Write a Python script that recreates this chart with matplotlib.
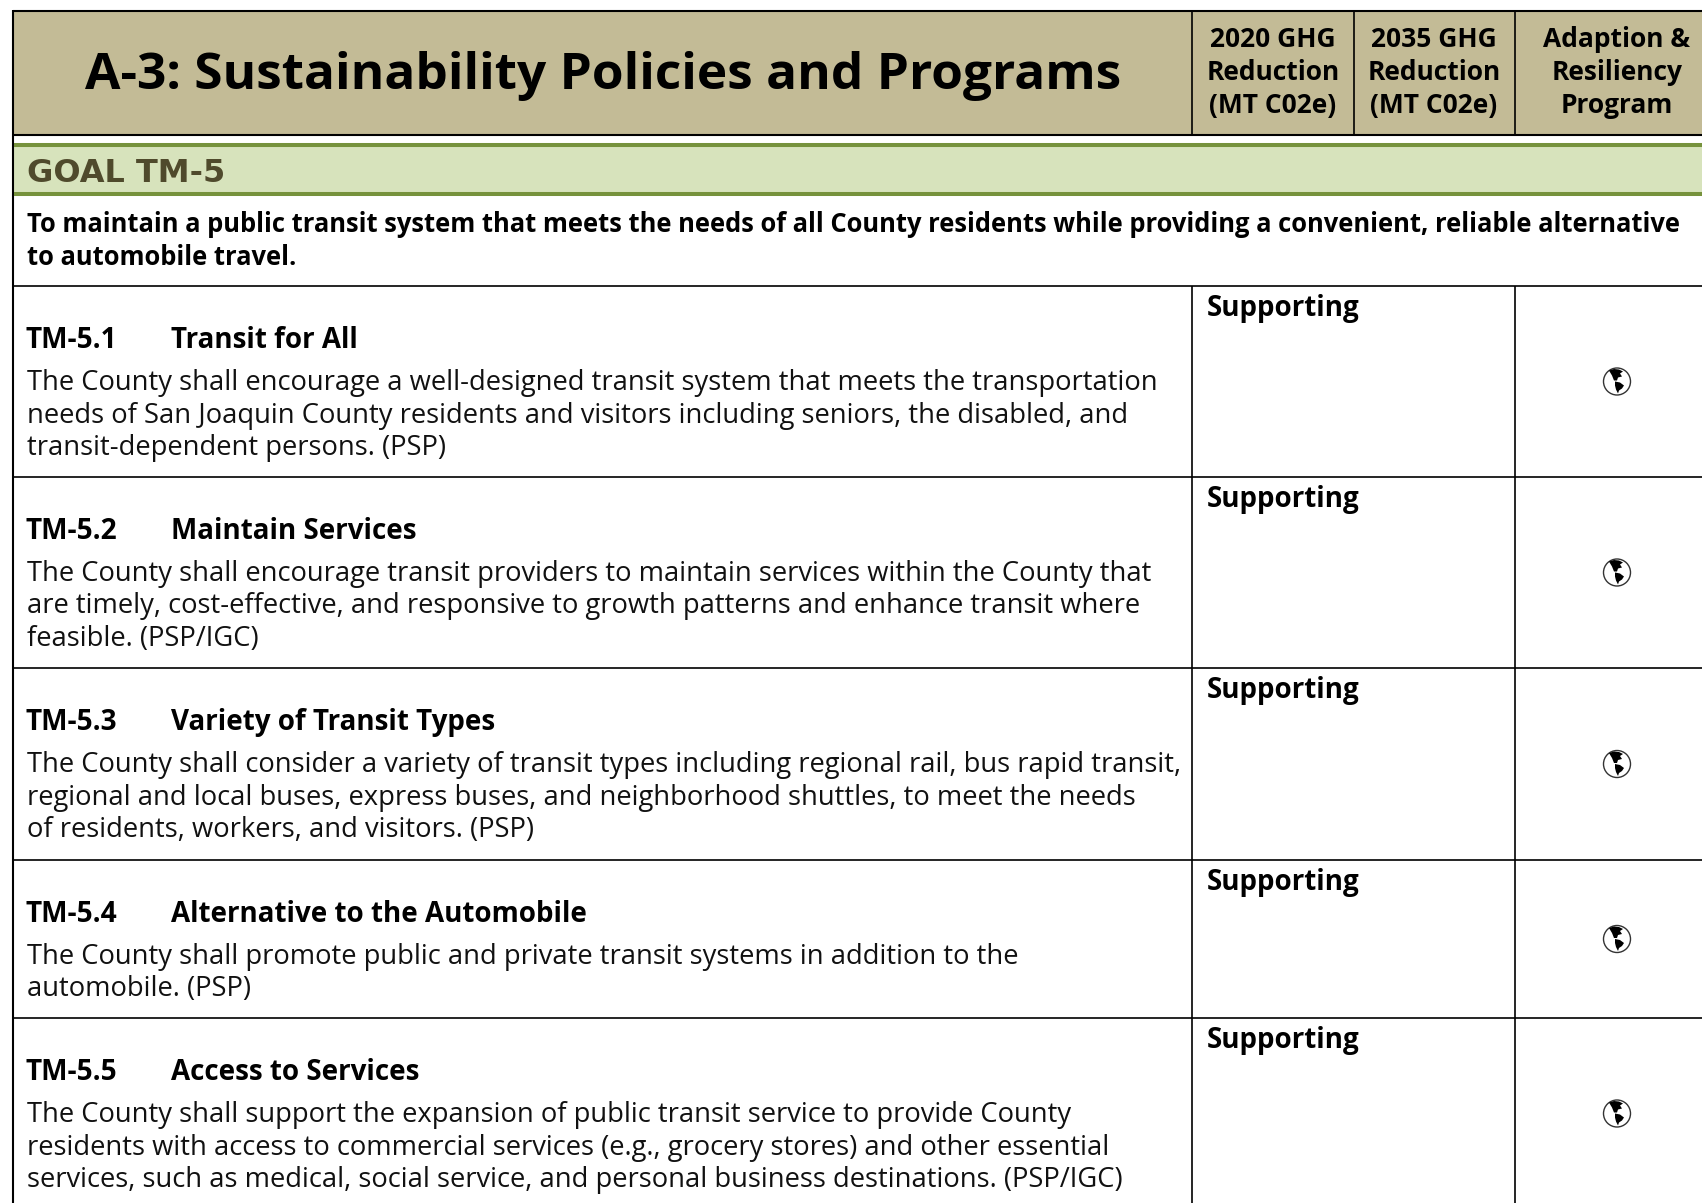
import matplotlib
matplotlib.use('Agg')
import matplotlib.pyplot as plt
from matplotlib.patches import Rectangle, Circle, Polygon

# Table content
title = "A-3: Sustainability Policies and Programs"
column_heads = [
    ["2020 GHG", "Reduction", "(MT C02e)"],
    ["2035 GHG", "Reduction", "(MT C02e)"],
    ["Adaption &", "Resiliency", "Program"],
]
goal_name = "GOAL TM-5"
goal_text = [
    "To maintain a public transit system that meets the needs of all County residents while providing a convenient, reliable alternative",
    "to automobile travel.",
]
policy_ids = ["TM-5.1", "TM-5.2", "TM-5.3", "TM-5.4", "TM-5.5"]
policy_names = ["Transit for All", "Maintain Services", "Variety of Transit Types",
                "Alternative to the Automobile", "Access to Services"]
policy_text = [
    ["The County shall encourage a well-designed transit system that meets the transportation",
     "needs of San Joaquin County residents and visitors including seniors, the disabled, and",
     "transit-dependent persons. (PSP)"],
    ["The County shall encourage transit providers to maintain services within the County that",
     "are timely, cost-effective, and responsive to growth patterns and enhance transit where",
     "feasible. (PSP/IGC)"],
    ["The County shall consider a variety of transit types including regional rail, bus rapid transit,",
     "regional and local buses, express buses, and neighborhood shuttles, to meet the needs",
     "of residents, workers, and visitors. (PSP)"],
    ["The County shall promote public and private transit systems in addition to the",
     "automobile. (PSP)"],
    ["The County shall support the expansion of public transit service to provide County",
     "residents with access to commercial services (e.g., grocery stores) and other essential",
     "services, such as medical, social service, and personal business destinations. (PSP/IGC)"],
]
ghg_label = "Supporting"

W, H = 1702, 1203
row_tops = [286, 477, 668, 860, 1018, 1209]
FONT = 'Open Sans'

fig = plt.figure(figsize=(W / 100, H / 100), dpi=100)
ax = fig.add_axes([0, 0, 1, 1])
ax.set_xlim(0, W)
ax.set_ylim(H, 0)
ax.axis('off')


def hline(y, x0=13, x1=W, lw=1.2, color='black'):
    ax.plot([x0, x1], [y, y], color=color, lw=lw, solid_capstyle='butt')


def vline(x, y0, y1, lw=1.2):
    ax.plot([x, x], [y0, y1], color='black', lw=lw, solid_capstyle='butt')


def draw_globe(cx, cy):
    r = 13.5
    ax.add_patch(Circle((cx, cy), r, fc='white', ec='#333333', lw=1.0))
    north = [(-8, -11), (-3, -12.5), (2, -12), (6, -10), (3, -8), (5, -5), (1, -4), (0, -1), (-3, -1), (-5, -6)]
    south = [(-2, 0), (3, 1), (7, 4), (5, 7), (2, 9), (1, 12), (-1, 8), (-2, 4)]
    for shape in (north, south):
        ax.add_patch(Polygon([(cx + x, cy + y) for x, y in shape], fc='black', ec='none'))


# Header band
ax.add_patch(Rectangle((13, 11), W - 13, 124, fc='#C3BB96', ec='none'))
hline(11, lw=1.5)
hline(135, lw=1.5)
vline(13, 10, H, lw=1.5)
vline(1192, 11, 135)
vline(1354, 11, 135)
vline(1515, 11, 135)

ax.text(603, 89, title, family=FONT, weight='bold', fontsize=37, ha='center', va='baseline', color='black')
for x, lines in zip([1273, 1434, 1617], column_heads):
    for k, line in enumerate(lines):
        ax.text(x, 47 + 33 * k, line, family=FONT, weight='bold', fontsize=19, ha='center', va='baseline')

# Goal band
ax.add_patch(Rectangle((14, 145), W - 14, 49, fc='#D7E3BC', ec='none'))
hline(145, x0=14, lw=2.9, color='#76923C')
hline(194, x0=14, lw=2.9, color='#76923C')
ax.text(27, 182, goal_name, family='DejaVu Sans', weight='bold', fontsize=23, va='baseline', color='#4F4A2C')
for k, line in enumerate(goal_text):
    ax.text(27, 232 + 33 * k, line, family=FONT, weight='bold', fontsize=18.4, va='baseline')

# Policy rows
vline(1192, row_tops[0], H)
vline(1515, row_tops[0], H)
for i, top in enumerate(row_tops[:-1]):
    hline(top)
    ax.text(26, top + 62, policy_ids[i], family=FONT, weight='bold', fontsize=20.2, va='baseline')
    ax.text(171, top + 62, policy_names[i], family=FONT, weight='bold', fontsize=20, va='baseline')
    for k, line in enumerate(policy_text[i]):
        ax.text(27, top + 104 + 32.5 * k, line, family=FONT, fontsize=19.75, va='baseline', color='#111111')
    ax.text(1207, top + 30, ghg_label, family=FONT, weight='bold', fontsize=20, va='baseline')
    draw_globe(1617, (top + row_tops[i + 1]) / 2)

fig.savefig('out.png', dpi=100)
